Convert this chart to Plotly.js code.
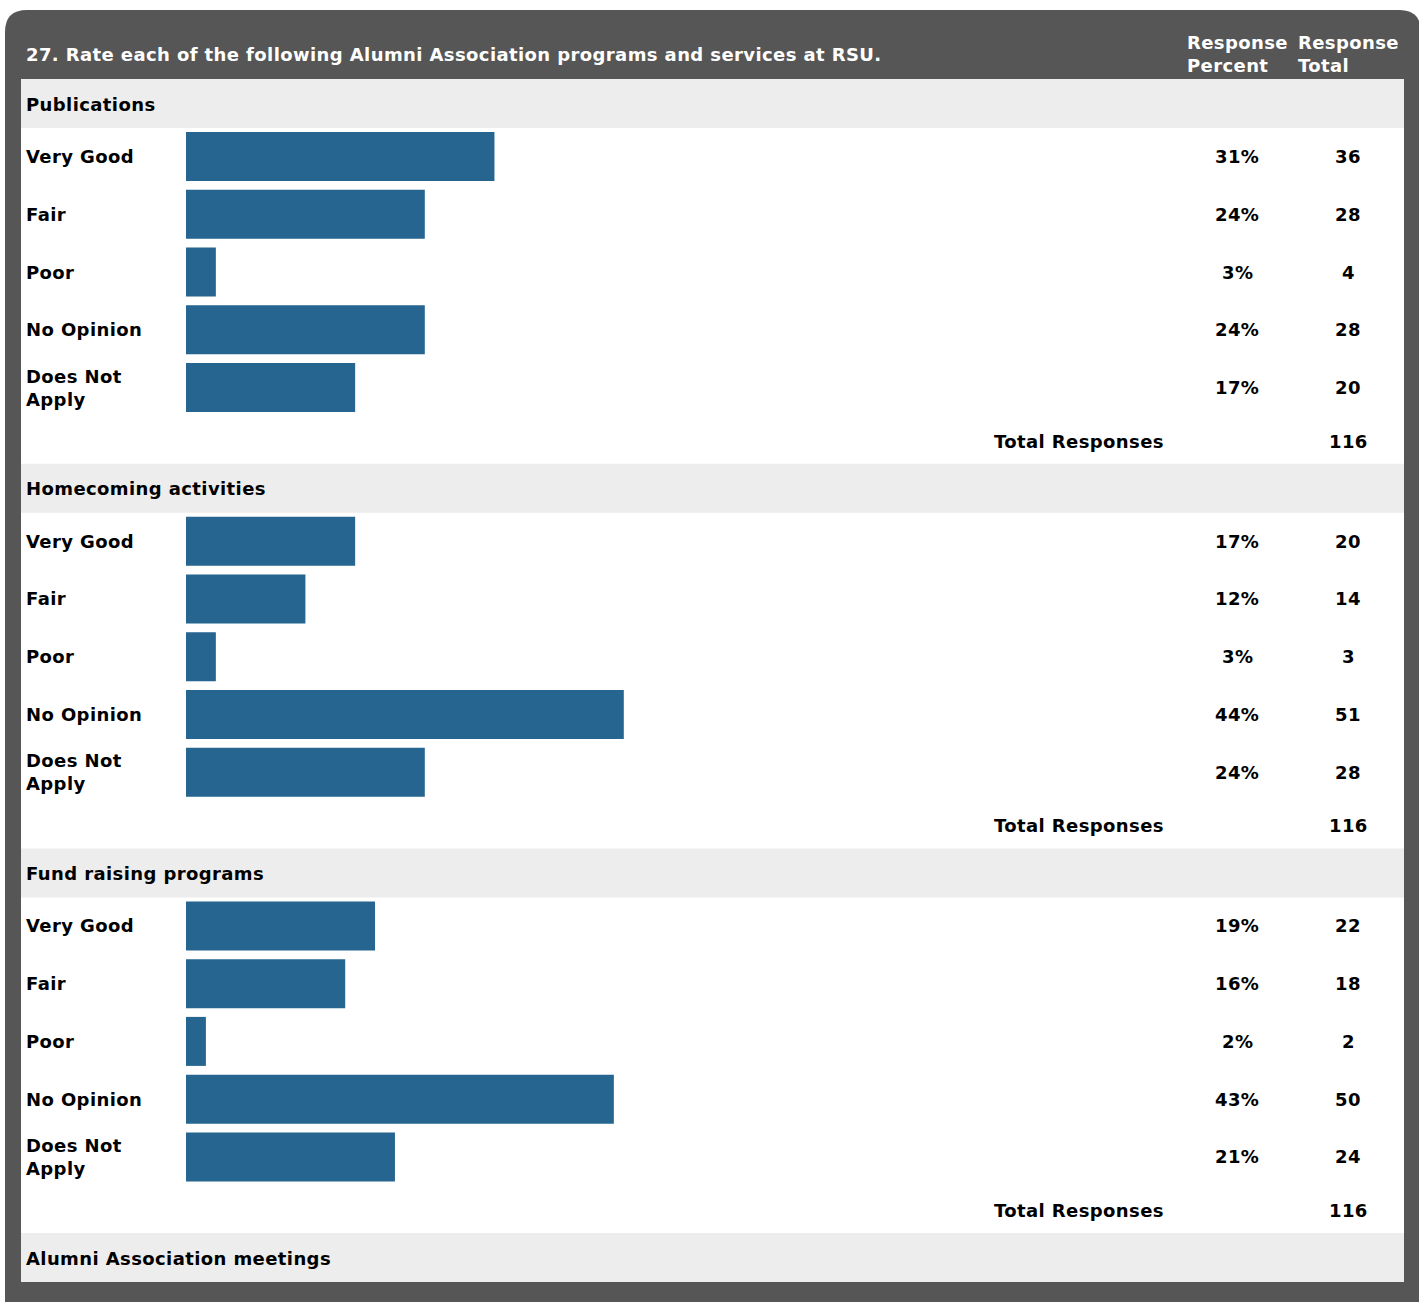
<!DOCTYPE html>
<html>
<head>
<meta charset="utf-8">
<script src="https://cdn.plot.ly/plotly-3.0.1.min.js"></script>
<style>
  html, body { margin: 0; padding: 0; background: #ffffff; }
  #chart { width: 1419px; height: 1303px; }
  svg text { letter-spacing: 0.4px; }
</style>
</head>
<body>
<div id="chart"></div>
<script>
// ---- Data ----
const questionTitle = "27. Rate each of the following Alumni Association programs and services at RSU.";
const columnHeaders = ["Response<br>Percent", "Response<br>Total"];
const sections = ["Publications", "Homecoming activities", "Fund raising programs", "Alumni Association meetings"];
const ratings = ["Very Good", "Fair", "Poor", "No Opinion", "Does Not<br>Apply"];
const publicationsPercent = [31, 24, 3, 24, 17];
const publicationsTotal = [36, 28, 4, 28, 20];
const homecomingPercent = [17, 12, 3, 44, 24];
const homecomingTotal = [20, 14, 3, 51, 28];
const fundraisingPercent = [19, 16, 2, 43, 21];
const fundraisingTotal = [22, 18, 2, 50, 24];
const totalResponses = [116, 116, 116];
const totalLabel = "Total Responses";

const sectionPercents = [publicationsPercent, homecomingPercent, fundraisingPercent];
const sectionTotals = [publicationsTotal, homecomingTotal, fundraisingTotal];

// ---- Layout geometry (pixels) ----
const W = 1419, H = 1303;
const secTop0 = 79, secPitch = 384.7, headH = 49;
const rowOffset = 53, rowPitch = 57.75, barH = 49;
const totalRowOffset = 362;
const barStart = 186, barFull = 995; // pixels for 100%
const barColor = "#256590";
const dark = "#565656";
const band = "#ededed";
const FONT = "DejaVu Sans, Verdana, sans-serif";
const px = v => v / W;

const barX = [], barY = [];
const annotations = [];
const shapes = [];

function txt(x, y, text, anchor, color) {
  annotations.push({
    xref: "paper", yref: "y", x: px(x), y: y, text: "<b>" + text + "</b>",
    showarrow: false, xanchor: anchor, yanchor: "middle", align: anchor === "center" ? "center" : "left",
    borderpad: 0, borderwidth: 0,
    font: { family: FONT, size: 18, color: color || "#000000" }
  });
}

// outer dark frame with rounded top corners
const L = 5, T = 10, R = 1421, B = 1302, rad = 22;
shapes.push({
  type: "path", xref: "paper", yref: "y", layer: "below",
  path: `M ${px(L)} ${B} L ${px(L)} ${T + rad} Q ${px(L)} ${T} ${px(L + rad)} ${T} L ${px(R - rad)} ${T} Q ${px(R)} ${T} ${px(R)} ${T + rad} L ${px(R)} ${B} Z`,
  fillcolor: dark, line: { width: 0 }
});
// inner white panel
shapes.push({ type: "rect", xref: "paper", yref: "y", layer: "below", x0: px(21), x1: px(1404), y0: 79, y1: 1282, fillcolor: "#ffffff", line: { width: 0 } });

// header texts
txt(26, 54, questionTitle, "left", "#ffffff");
txt(1187, 54, columnHeaders[0], "left", "#ffffff");
txt(1298, 54, columnHeaders[1], "left", "#ffffff");

sections.forEach((name, s) => {
  const top = secTop0 + s * secPitch;
  const bandBottom = Math.min(top + headH, 1282);
  shapes.push({ type: "rect", xref: "paper", yref: "y", layer: "below", x0: px(21), x1: px(1404), y0: top, y1: bandBottom, fillcolor: band, line: { width: 0 } });
  txt(26, top + 25, name, "left");
  if (s < sectionPercents.length) {
    ratings.forEach((r, i) => {
      const cy = top + rowOffset + i * rowPitch + barH / 2;
      barX.push(sectionPercents[s][i]);
      barY.push(cy);
      txt(26, cy, r, "left");
      txt(1237, cy, sectionPercents[s][i] + "%", "center");
      txt(1348, cy, String(sectionTotals[s][i]), "center");
    });
    const ty = top + totalRowOffset;
    txt(1164, ty, totalLabel, "right");
    txt(1348, ty, String(totalResponses[s]), "center");
  }
});

const trace = {
  type: "bar", orientation: "h", x: barX, y: barY, width: barH,
  marker: { color: barColor, line: { width: 0 } },
  hoverinfo: "skip"
};

const perPct = barFull / 100;
const layout = {
  width: W, height: H,
  margin: { l: 0, r: 0, t: 0, b: 0, pad: 0 },
  paper_bgcolor: "#ffffff", plot_bgcolor: "rgba(0,0,0,0)",
  showlegend: false,
  xaxis: { domain: [0, 1], range: [-barStart / perPct, (W - barStart) / perPct], visible: false, fixedrange: true },
  yaxis: { domain: [0, 1], range: [H, 0], visible: false, fixedrange: true },
  shapes: shapes,
  annotations: annotations
};

Plotly.newPlot("chart", [trace], layout, { staticPlot: true, displayModeBar: false });
</script>
</body>
</html>
